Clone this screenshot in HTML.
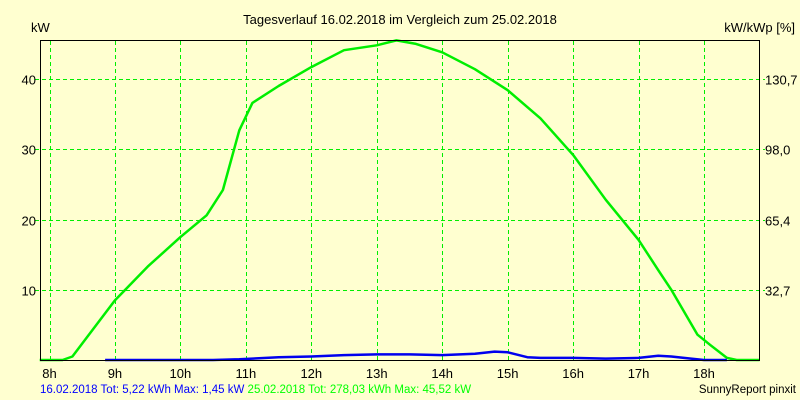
<!DOCTYPE html>
<html><head><meta charset="utf-8"><style>
body{margin:0;background:#ffffd0;}
svg{display:block;font-family:"Liberation Sans",sans-serif;font-size:12px;}
</style></head><body>
<svg id="chart" width="800" height="400" viewBox="0 0 800 400">
<rect x="0" y="0" width="800" height="400" fill="#ffffd0"/>
<text x="400" y="24" text-anchor="middle" font-size="13">Tagesverlauf 16.02.2018 im Vergleich zum 25.02.2018</text>
<text x="31" y="32" font-size="13">kW</text>
<text x="795" y="32" text-anchor="end" font-size="13">kW/kWp [%]</text>
<g id="grid"></g>
<g id="series"></g>
<rect x="40.5" y="40.5" width="719" height="320" fill="none" stroke="#000" stroke-width="1"/>
<g id="labels"></g>
<text x="40" y="393" fill="#0000ff" font-size="11.5">16.02.2018 Tot: 5,22 kWh Max: 1,45 kW <tspan fill="#00ff00">25.02.2018 Tot: 278,03 kWh Max: 45,52 kW</tspan></text>
<text x="796" y="393" text-anchor="end" font-size="11.5">SunnyReport pinxit</text>
</svg>
<script>
const hourTicks=[8,9,10,11,12,13,14,15,16,17,18];
const kwTicks=[10,20,30,40];
const pctTicks=["32,7","65,4","98,0","130,7"];
const greenTimes=[7.85,8.2,8.35,9.0,9.5,10.0,10.4,10.65,10.9,11.1,11.5,12.0,12.5,13.0,13.3,13.6,14.0,14.5,15.0,15.5,16.0,16.5,17.0,17.3,17.5,17.9,18.1,18.35,18.5,18.85];
const greenKw=[0,0,0.5,8.5,13.3,17.5,20.6,24.2,32.7,36.6,39,41.7,44.1,44.8,45.5,45.0,43.8,41.4,38.4,34.4,29.2,22.8,17.1,12.8,10,3.6,2.1,0.3,0,0];
const blueTimes=[8.85,10.5,10.9,11.1,11.5,12.0,12.5,13.0,13.5,14.0,14.5,14.8,15.0,15.3,15.5,16.0,16.5,17.0,17.3,17.5,17.8,18.0,18.35];
const blueKw=[0,0,0.1,0.2,0.4,0.5,0.7,0.8,0.8,0.7,0.9,1.2,1.1,0.4,0.3,0.3,0.2,0.3,0.6,0.5,0.2,0,0];
const NS="http://www.w3.org/2000/svg";
const X=h=>49.5+(h-8)*65.45;
const Y=v=>360-v*7.025;
const grid=document.getElementById('grid'),labels=document.getElementById('labels'),series=document.getElementById('series');
function mk(tag,parent,attrs){const e=document.createElementNS(NS,tag);for(const k in attrs)e.setAttribute(k,attrs[k]);parent.appendChild(e);return e;}
hourTicks.forEach(h=>{
  const l=mk('line',grid,{x1:Math.round(X(h))+.5,x2:Math.round(X(h))+.5,y1:41,y2:360,stroke:'#00ee00','stroke-dasharray':'4,3'});
  
  
  const t=mk('text',labels,{x:X(h),y:378,'text-anchor':'middle','font-size':'13'});
  
  
  t.textContent=h+'h';
});
kwTicks.forEach((v,i)=>{
  const y=Math.round(Y(v))+.5;
  const l=mk('line',grid,{x1:35,x2:765,y1:y,y2:y,stroke:'#00ee00','stroke-dasharray':'4,3'});
  
  
  const t=mk('text',labels,{x:36,y:y+5,'text-anchor':'end','font-size':'13'});
  
  
  t.textContent=v;
  const r=mk('text',labels,{x:765,y:y+5,'font-size':'13'});
  
  
  r.textContent=pctTicks[i];
});
function line(ts,vs,color,name){
  const p=mk('polyline',series,{points:ts.map((t,i)=>X(t).toFixed(1)+','+Y(vs[i]).toFixed(1)).join(' '),fill:'none',stroke:color,'stroke-width':'2.5','stroke-linejoin':'round'});
  
  
}
line(greenTimes,greenKw,'#00ee00','series-25-02-2018');
line(blueTimes,blueKw,'#0000ee','series-16-02-2018');
</script>
</body></html>
